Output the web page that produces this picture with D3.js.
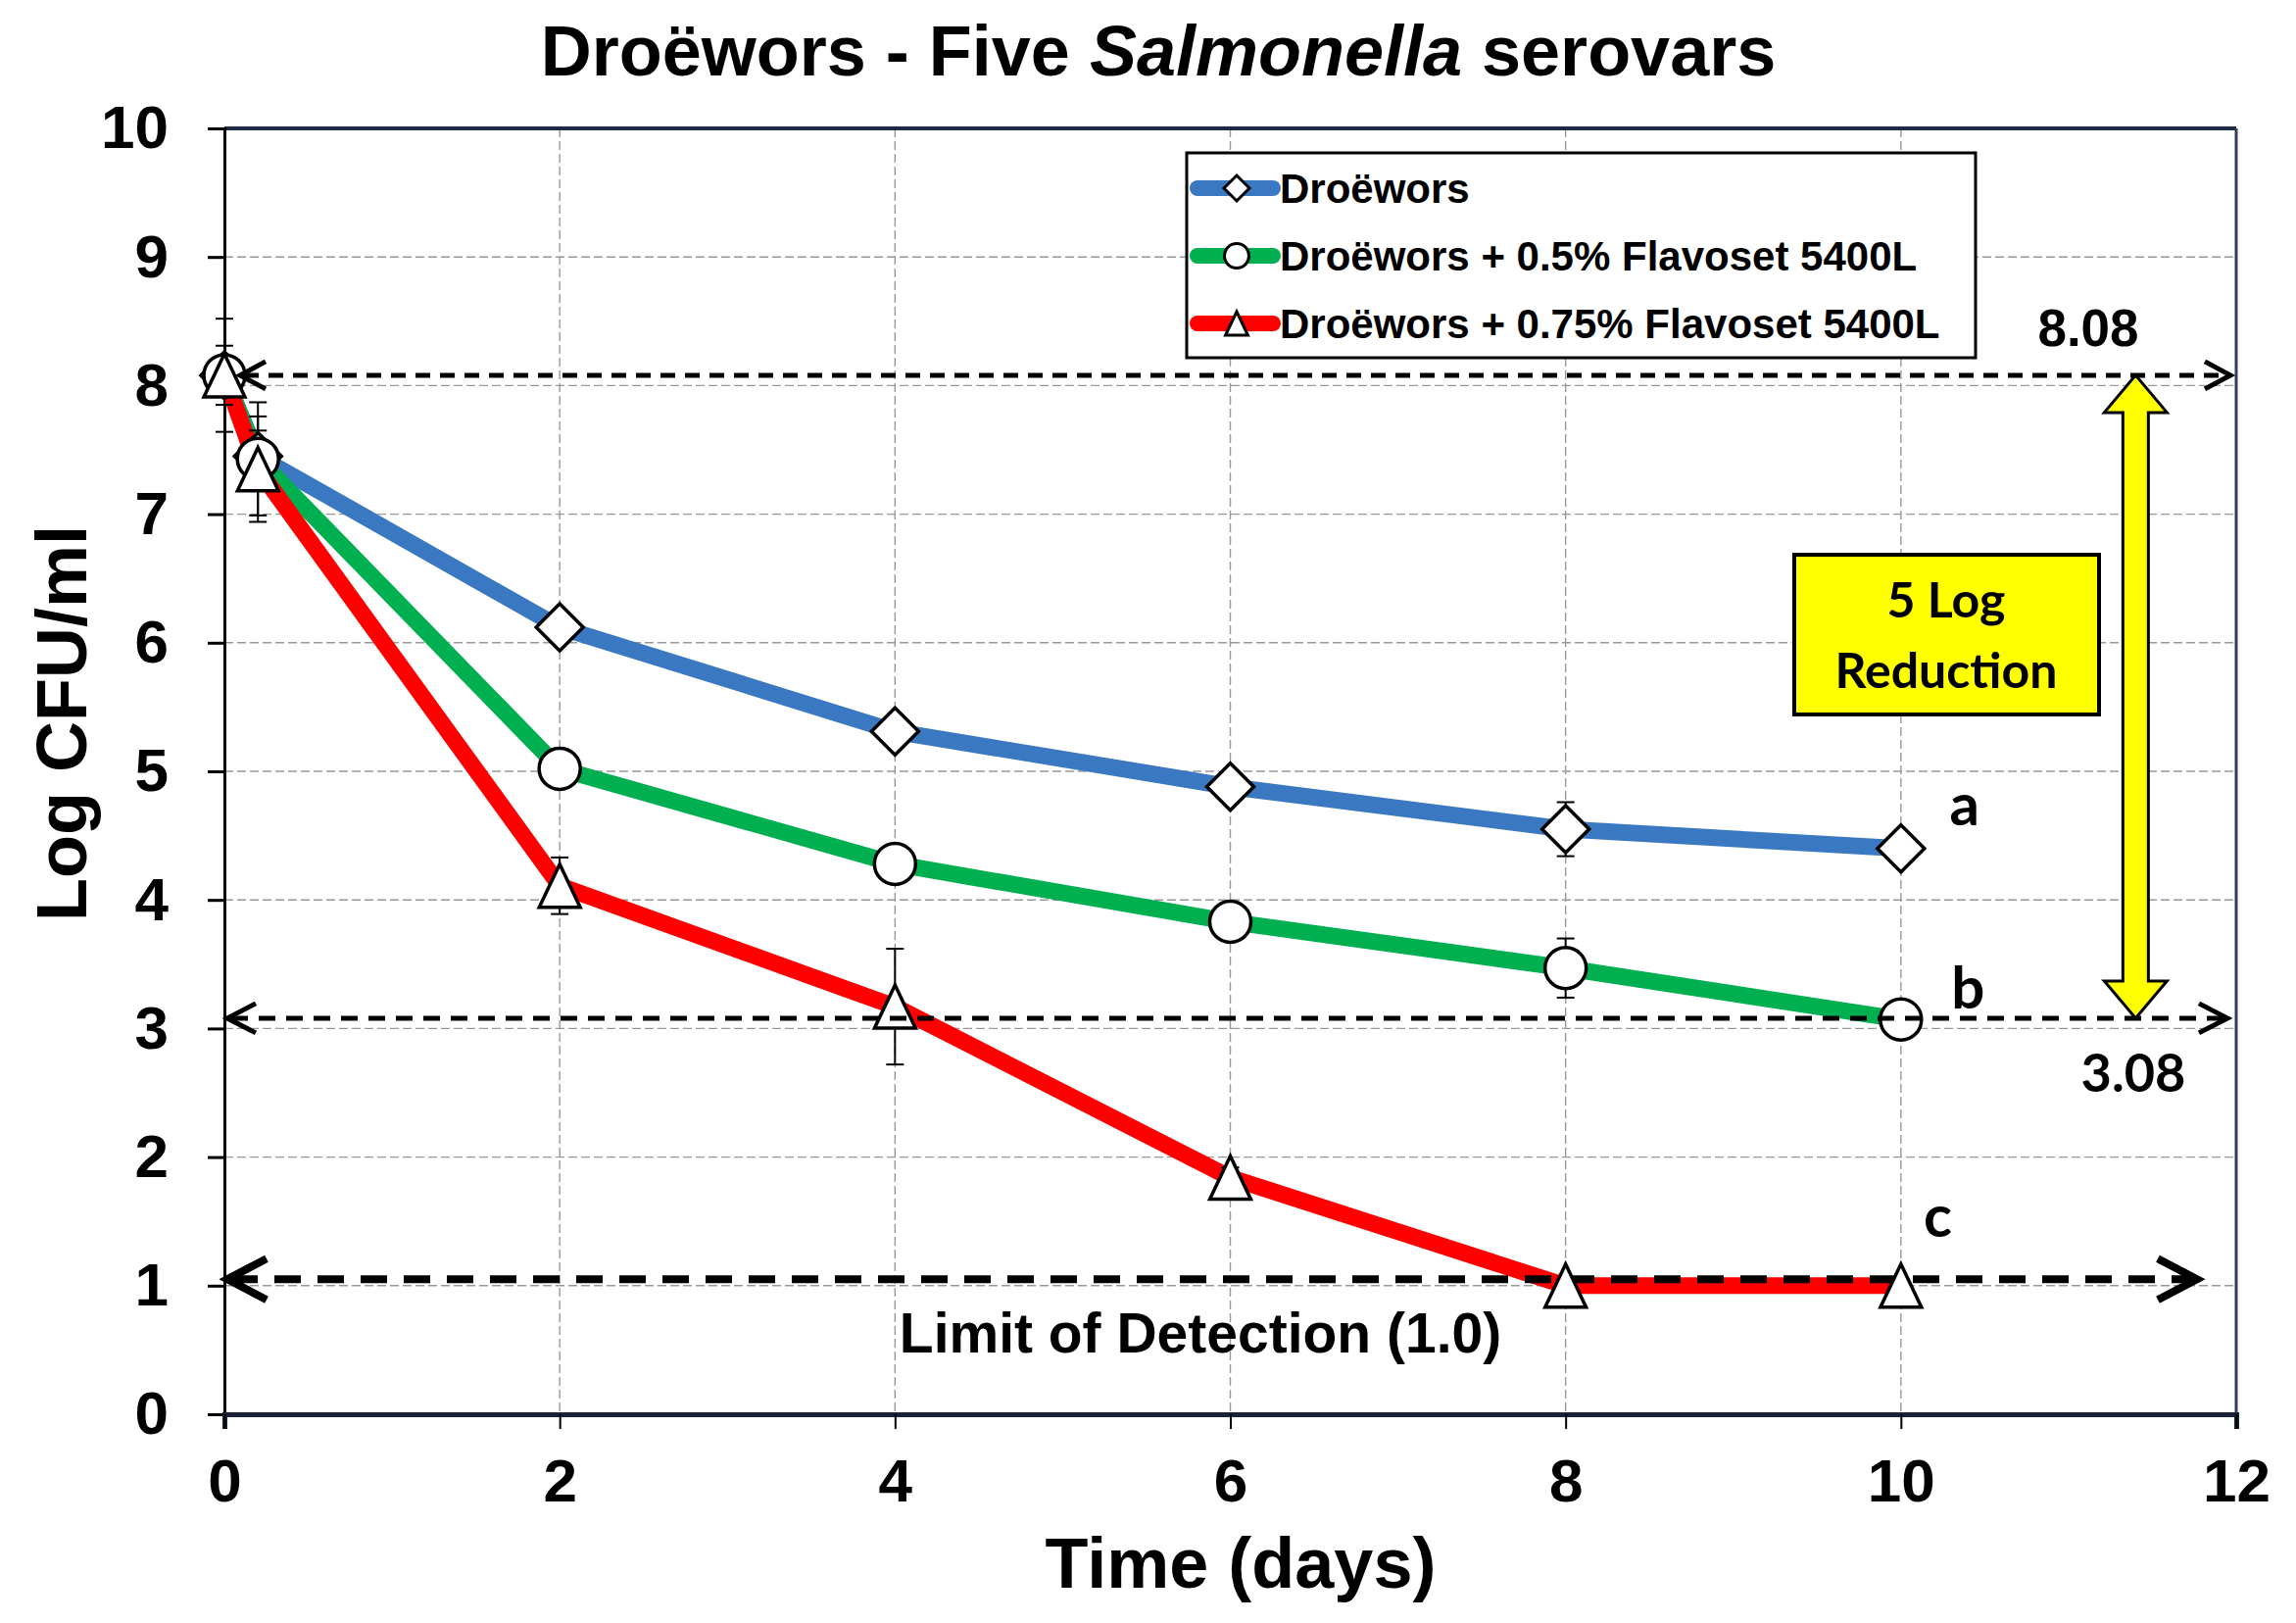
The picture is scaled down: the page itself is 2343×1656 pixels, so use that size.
<!DOCTYPE html>
<html>
<head>
<meta charset="utf-8">
<script src="https://cdn.jsdelivr.net/npm/d3@7"></script>
<style>
  body { margin: 0; background: #fff; }
  svg { display: block; }
  text { font-family: "Liberation Sans", Arial, sans-serif; font-weight: bold; fill: #000; }
  .calib { font-family: Lato, "Open Sans", sans-serif; font-weight: 700; }
</style>
</head>
<body>
<svg id="chart" width="2343" height="1656"></svg>
<script>
// sampling days
const days = [0, 0.2, 2, 4, 6, 8, 10];
const seriesNames = ["Droëwors", "Droëwors + 0.5% Flavoset 5400L", "Droëwors + 0.75% Flavoset 5400L"];
// log CFU/ml
const plainValues = [8.08, 7.45, 6.12, 5.31, 4.88, 4.55, 4.40];
const halfValues = [8.08, 7.43, 5.02, 4.28, 3.83, 3.47, 3.07];
const threeQuarterValues = [8.08, 7.35, 4.11, 3.17, 1.84, 1.00, 1.00];
// error bars (+/-)
const plainErr = [0.10, 0.20, 0.08, 0.08, 0.08, 0.21, 0.08];
const halfErr = [0.23, 0.44, 0.08, 0.08, 0.08, 0.23, 0.05];
const threeQuarterErr = [0.44, 0.41, 0.22, 0.45, 0.08, 0, 0];
const endLetters = ["a", "b", "c"];
const xTicks = [0, 2, 4, 6, 8, 10, 12];
const yTicks = [0, 1, 2, 3, 4, 5, 6, 7, 8, 9, 10];
const refLevels = [8.08, 3.08];
const lodLevel = 1.05;
const lodLabel = "Limit of Detection (1.0)";
const reductionLabel = ["5 Log", "Reduction"];

const colors = ["#3b78c2", "#00b050", "#ff0000"];
const shapes = ["diamond", "circle", "triangle"];

const svg = d3.select("#chart");
const x = d3.scaleLinear().domain([0, 12]).range([229, 2282]);
const y = d3.scaleLinear().domain([0, 10]).range([1443, 131]);

const series = [plainValues, halfValues, threeQuarterValues].map((vals, i) => ({
    name: seriesNames[i],
    color: colors[i],
    shape: shapes[i],
    letter: endLetters[i],
    points: days.map((d, j) => ({
        day: d,
        value: vals[j],
        err: [plainErr, halfErr, threeQuarterErr][i][j]
    }))
}));

// title
const title = svg.append("text")
    .attr("x", 1182).attr("y", 77)
    .attr("text-anchor", "middle")
    .style("font-size", "72px");
title.append("tspan").text("Droëwors - Five ");
title.append("tspan").style("font-style", "italic").text("Salmonella");
title.append("tspan").text(" serovars");

// grid
const grid = svg.append("g");
grid.selectAll(".vg")
    .data(xTicks.filter(t => t > 0 && t < 12))
    .enter().append("line")
    .attr("x1", d => x(d)).attr("x2", d => x(d))
    .attr("y1", y(10)).attr("y2", y(0))
    .attr("stroke", "#999").attr("stroke-width", 1.4)
    .attr("stroke-dasharray", "9,4");
grid.selectAll(".hg")
    .data(yTicks.filter(t => t > 0 && t < 10))
    .enter().append("line")
    .attr("x1", x(0)).attr("x2", x(12))
    .attr("y1", d => y(d)).attr("y2", d => y(d))
    .attr("stroke", "#999").attr("stroke-width", 1.4)
    .attr("stroke-dasharray", "9,4");

// frame top / right
svg.append("line")
    .attr("x1", x(0)).attr("x2", x(12)).attr("y1", y(10)).attr("y2", y(10))
    .attr("stroke", "#1f2b45").attr("stroke-width", 4);
svg.append("line")
    .attr("x1", x(12)).attr("x2", x(12)).attr("y1", y(10)).attr("y2", y(0))
    .attr("stroke", "#34405a").attr("stroke-width", 3);

// axes
const yAxis = svg.append("g")
    .attr("transform", `translate(${x(0)},0)`)
    .call(d3.axisLeft(y).tickValues(yTicks).tickSize(17).tickPadding(40).tickFormat(d3.format("d")));
yAxis.select(".domain").attr("stroke", "#000").attr("stroke-width", 3);
yAxis.selectAll(".tick line").attr("stroke", "#000").attr("stroke-width", 3);
yAxis.selectAll("text").style("font-size", "62px").style("font-family", "'Liberation Sans', Arial, sans-serif").style("font-weight", "bold");

const xAxis = svg.append("g")
    .attr("transform", `translate(0,${y(0)})`)
    .call(d3.axisBottom(x).tickValues(xTicks).tickSize(15).tickPadding(30).tickFormat(d3.format("d")));
xAxis.select(".domain").attr("stroke", "#1a2238").attr("stroke-width", 5);
xAxis.selectAll(".tick line").attr("stroke", "#000").attr("stroke-width", 2);
xAxis.selectAll("text").style("font-size", "62px").style("font-family", "'Liberation Sans', Arial, sans-serif").style("font-weight", "bold");

// axis titles
svg.append("text")
    .attr("transform", `translate(88,738) rotate(-90)`)
    .attr("text-anchor", "middle")
    .style("font-size", "72px")
    .text("Log CFU/ml");
svg.append("text")
    .attr("x", 1266).attr("y", 1620)
    .attr("text-anchor", "middle")
    .style("font-size", "72px")
    .text("Time (days)");

// yellow double arrow (5 log reduction)
const ax = x(11.4), yTop = y(refLevels[0]), yBot = y(refLevels[1]);
const hw = 32, sw = 13, hl = 38;
svg.append("polygon")
    .attr("points", [
        [ax, yTop], [ax + hw, yTop + hl], [ax + sw, yTop + hl], [ax + sw, yBot - hl], [ax + hw, yBot - hl],
        [ax, yBot], [ax - hw, yBot - hl], [ax - sw, yBot - hl], [ax - sw, yTop + hl], [ax - hw, yTop + hl]
    ].map(p => p.join(",")).join(" "))
    .attr("fill", "#ffff00").attr("stroke", "#000").attr("stroke-width", 3);

// yellow box
svg.append("rect")
    .attr("x", 1831).attr("y", 566).attr("width", 311).attr("height", 163)
    .attr("fill", "#ffff00").attr("stroke", "#000").attr("stroke-width", 4);
svg.selectAll(".redlab")
    .data(reductionLabel)
    .enter().append("text")
    .attr("class", "calib")
    .attr("x", 1986).attr("y", (d, i) => 630 + i * 72)
    .attr("text-anchor", "middle")
    .style("font-size", "50px")
    .text(d => d);

// series lines
const line = d3.line().x(d => x(d.day)).y(d => y(d.value));
svg.append("g").selectAll("path")
    .data(series)
    .enter().append("path")
    .attr("d", d => line(d.points))
    .attr("fill", "none")
    .attr("stroke", d => d.color)
    .attr("stroke-width", 17)
    .attr("stroke-linejoin", "round");

// dashed arrow helper
function dashedArrow(level, x0, x1, dash, width, headLen, headH) {
    const g = svg.append("g");
    const yy = y(level);
    g.append("line")
        .attr("x1", x0 + 4).attr("x2", x1 - 4).attr("y1", yy).attr("y2", yy)
        .attr("stroke", "#000").attr("stroke-width", width)
        .attr("stroke-dasharray", dash);
    g.append("path")
        .attr("d", `M${x0 + headLen},${yy - headH}L${x0},${yy}L${x0 + headLen},${yy + headH}`)
        .attr("fill", "none").attr("stroke", "#000").attr("stroke-width", width);
    g.append("path")
        .attr("d", `M${x1 - headLen},${yy - headH}L${x1},${yy}L${x1 - headLen},${yy + headH}`)
        .attr("fill", "none").attr("stroke", "#000").attr("stroke-width", width);
}

// limit of detection
dashedArrow(lodLevel, 232, 2242, "27,17", 8, 40, 21);
svg.append("text")
    .attr("x", 1225).attr("y", 1380)
    .attr("text-anchor", "middle")
    .style("font-size", "57px")
    .text(lodLabel);

// error bars
const eb = svg.append("g");
series.forEach(s => {
    s.points.filter(p => p.err > 0).forEach(p => {
        const cx = x(p.day);
        eb.append("line")
            .attr("x1", cx).attr("x2", cx)
            .attr("y1", y(p.value + p.err)).attr("y2", y(p.value - p.err))
            .attr("stroke", "#000").attr("stroke-width", 2);
        [p.value + p.err, p.value - p.err].forEach(v => {
            eb.append("line")
                .attr("x1", cx - 9).attr("x2", cx + 9)
                .attr("y1", y(v)).attr("y2", y(v))
                .attr("stroke", "#000").attr("stroke-width", 2);
        });
    });
});

// markers
function markerPath(shape, s) {
    if (shape === "diamond") return `M0,${-s}L${s},0L0,${s}L${-s},0Z`;
    if (shape === "triangle") return `M0,${-s}L${s * 0.95},${s}L${-s * 0.95},${s}Z`;
    return null;
}
function drawMarker(g, shape, cx, cy, big) {
    if (shape === "circle") {
        g.append("circle").attr("cx", cx).attr("cy", cy).attr("r", big ? 21 : 12.5)
            .attr("fill", "#fff").attr("stroke", "#000").attr("stroke-width", big ? 3.5 : 3);
    } else {
        const s = shape === "diamond" ? (big ? 24 : 13) : (big ? 22 : 12);
        g.append("path").attr("d", markerPath(shape, s))
            .attr("transform", `translate(${cx},${cy})`)
            .attr("fill", "#fff").attr("stroke", "#000").attr("stroke-width", big ? 3.5 : 3)
            .attr("stroke-linejoin", "miter");
    }
}
const mk = svg.append("g");
series.forEach(s => {
    s.points.forEach(p => drawMarker(mk, s.shape, x(p.day), y(p.value), true));
});

// reference arrows 8.08 and 3.08
dashedArrow(refLevels[0], 245, 2276, "15,10", 5, 26, 14);
dashedArrow(refLevels[1], 232, 2273, "17,11", 5, 29, 15);
svg.append("text")
    .attr("x", 2131).attr("y", 353)
    .attr("text-anchor", "middle")
    .style("font-size", "53px")
    .text(refLevels[0].toFixed(2));
svg.append("text")
    .attr("class", "calib")
    .attr("x", 2177).attr("y", 1114)
    .attr("text-anchor", "middle")
    .style("font-size", "54px")
    .text(refLevels[1].toFixed(2));

// end letters
const letterSpots = [[x(10.38), 842], [x(10.4), 1029], [x(10.22), 1262]];
svg.selectAll(".endlab")
    .data(series)
    .enter().append("text")
    .attr("class", "calib")
    .attr("x", (d, i) => letterSpots[i][0])
    .attr("y", (d, i) => letterSpots[i][1])
    .attr("text-anchor", "middle")
    .style("font-size", "60px")
    .text(d => d.letter);

// legend
const lg = svg.append("g");
lg.append("rect")
    .attr("x", 1211).attr("y", 156).attr("width", 805).attr("height", 209)
    .attr("fill", "#fff").attr("stroke", "#000").attr("stroke-width", 3);
series.forEach((s, i) => {
    const cy = 192 + i * 69;
    lg.append("line")
        .attr("x1", 1222).attr("x2", 1299).attr("y1", cy).attr("y2", cy)
        .attr("stroke", s.color).attr("stroke-width", 16).attr("stroke-linecap", "round");
    drawMarker(lg, s.shape, 1262, cy, false);
    lg.append("text")
        .attr("x", 1306).attr("y", cy + 15)
        .style("font-size", "42px")
        .text(s.name);
});
</script>
</body>
</html>
